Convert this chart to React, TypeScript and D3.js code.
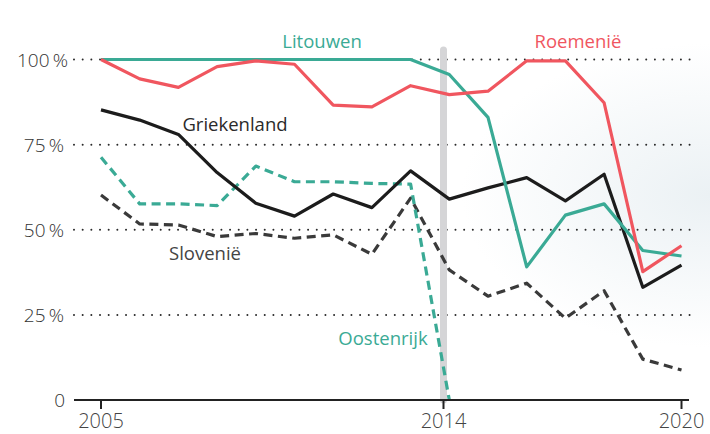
import React, { useEffect, useRef } from 'react'
import * as d3 from 'd3'

const years = [2005, 2006, 2007, 2008, 2009, 2010, 2011, 2012, 2013, 2014, 2015, 2016, 2017, 2018, 2019, 2020]
const litouwen = [100, 100, 100, 100, 100, 100, 100, 100, 100, 95.6, 83, 39.1, 54.3, 57.6, 43.9, 42.3]
const roemenie = [100, 94.3, 91.8, 97.9, 99.6, 98.6, 86.6, 86.1, 92.3, 89.7, 90.7, 99.6, 99.6, 87.3, 37.7, 45.3]
const griekenland = [85.2, 82.2, 78, 66.8, 57.8, 54, 60.5, 56.5, 67.3, 59, 62.3, 65.3, 58.5, 66.3, 33.1, 39.6]
const oostenrijk = [71.3, 57.6, 57.6, 57.1, 68.7, 64.1, 64.1, 63.6, 63.4, 0]
const slovenie = [60.2, 51.7, 51.4, 48, 48.9, 47.5, 48.5, 42.8, 59.3, 38.2, 30.5, 34.3, 24, 32.1, 12, 8.8]
const yTicks = [0, 25, 50, 75, 100]
const xTicks = [2005, 2013.85, 2020]
const xTickLabels = ['2005', '2014', '2020']
const markerYear = 2013.85

const TEAL = '#3aaa95'
const RED = '#f0565f'
const BLACK = '#1c1c1c'
const DARK = '#3a3a3a'

const App = () => {
  const ref = useRef<SVGSVGElement>(null)

  useEffect(() => {
    const svg = d3.select(ref.current)
    svg.selectAll('*').remove()
    const font = '"Open Sans", Roboto, sans-serif'

    const x = d3.scaleLinear().domain([2005, 2020]).range([101, 681.5])
    const y = d3.scaleLinear().domain([0, 100]).range([400, 59.5])

    // faint tint on the right
    const defs = svg.append('defs')
    const grad = defs.append('radialGradient').attr('id', 'bg')
      .attr('cx', '1').attr('cy', '0.45').attr('r', '0.35')
    grad.append('stop').attr('offset', '0').attr('stop-color', '#ebf1f4')
    grad.append('stop').attr('offset', '1').attr('stop-color', '#ffffff')
    svg.append('rect').attr('width', 710).attr('height', 434).attr('fill', 'url(#bg)')

    // dotted grid
    svg.append('g')
      .selectAll('line')
      .data(yTicks.filter(d => d > 0))
      .join('line')
      .attr('x1', 74)
      .attr('x2', 694)
      .attr('y1', d => y(d))
      .attr('y2', d => y(d))
      .style('stroke', '#2a2a2a')
      .style('stroke-width', 2)
      .style('stroke-linecap', 'round')
      .style('stroke-dasharray', '0,8.67')

    // marker band
    svg.append('line')
      .attr('x1', x(markerYear)).attr('x2', x(markerYear))
      .attr('y1', 50).attr('y2', y(0))
      .style('stroke', '#d5d5d7')
      .style('stroke-width', 7)
      .style('stroke-linecap', 'round')

    // y labels
    svg.append('g')
      .selectAll('text')
      .data(yTicks)
      .join('text')
      .attr('x', d => (d === 0 ? 65 : d === 100 ? 68 : 64))
      .attr('y', d => y(d) + 7)
      .attr('text-anchor', 'end')
      .style('font-family', font)
      .style('font-size', '19px')
      .style('font-weight', 300)
      .style('fill', '#333')
      .text(d => (d === 0 ? '0' : d + '\u2009%'))

    const line = d3.line<number>()
      .x((d, i) => x(years[i]))
      .y(d => y(d))

    const series = [
      { data: slovenie, color: DARK, dash: '9,5.5' },
      { data: oostenrijk, color: TEAL, dash: '9,5.5' },
      { data: griekenland, color: BLACK, dash: null },
      { data: litouwen, color: TEAL, dash: null },
      { data: roemenie, color: RED, dash: null },
    ]
    series.forEach(s => {
      svg.append('path')
        .datum(s.data)
        .attr('d', line)
        .style('fill', 'none')
        .style('stroke', s.color)
        .style('stroke-width', 3.2)
        .style('stroke-linejoin', 'round')
        .style('stroke-dasharray', s.dash)
    })

    // x axis
    svg.append('line')
      .attr('x1', 74).attr('x2', 689)
      .attr('y1', y(0)).attr('y2', y(0))
      .style('stroke', '#222')
      .style('stroke-width', 2)
    const ticks = svg.append('g')
    ticks.selectAll('line')
      .data(xTicks)
      .join('line')
      .attr('x1', d => x(d)).attr('x2', d => x(d))
      .attr('y1', y(0)).attr('y2', y(0) + 9)
      .style('stroke', '#222')
      .style('stroke-width', 2)
    ticks.selectAll('text')
      .data(xTicks)
      .join('text')
      .attr('x', d => x(d))
      .attr('y', 428)
      .attr('text-anchor', 'middle')
      .style('font-family', font)
      .style('font-size', '20px')
      .style('font-weight', 300)
      .style('fill', '#444')
      .text((d, i) => xTickLabels[i])

    const labels = [
      { text: 'Litouwen', x: 322, y: 48, color: TEAL },
      { text: 'Roemenië', x: 578, y: 48, color: RED },
      { text: 'Griekenland', x: 235, y: 131, color: '#2a2a2a' },
      { text: 'Slovenië', x: 205, y: 260, color: '#444' },
      { text: 'Oostenrijk', x: 383, y: 345, color: TEAL },
    ]
    svg.append('g')
      .selectAll('text')
      .data(labels)
      .join('text')
      .attr('x', d => d.x)
      .attr('y', d => d.y)
      .attr('text-anchor', 'middle')
      .style('font-family', font)
      .style('font-size', '18.5px')
      .style('fill', d => d.color)
      .text(d => d.text)
  }, [])

  return (
    <div>
      <style>{'body{margin:0}'}</style>
      <svg ref={ref} width={710} height={434} style={{ display: 'block' }} />
    </div>
  )
}

export default App
